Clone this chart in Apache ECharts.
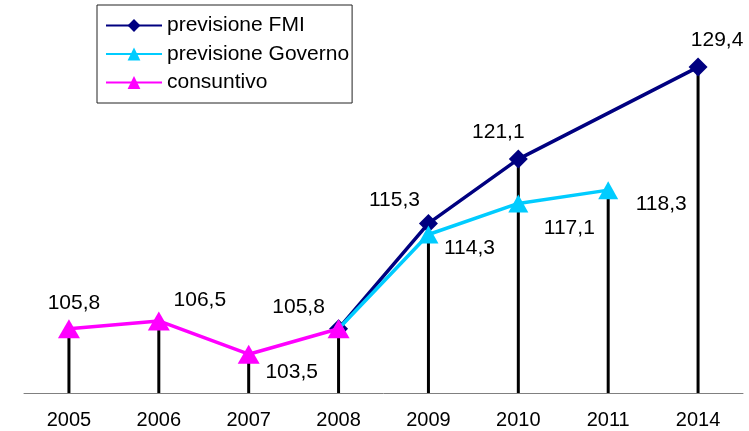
<!DOCTYPE html>
<html>
<head>
<meta charset="utf-8">
<script src="https://cdn.jsdelivr.net/npm/echarts@6/dist/echarts.min.js"></script>
<style>html,body{margin:0;padding:0;background:#fff}#c{width:749px;height:431px}</style>
</head>
<body>
<div id="c"></div>
<script>
var categories = ['2005', '2006', '2007', '2008', '2009', '2010', '2011', '2014'];
var fmi = [null, null, null, 105.8, 115.3, 121.1, null, 129.4];
var governo = [null, null, null, 105.8, 114.3, 117.1, 118.3, null];
var consuntivo = [105.8, 106.5, 103.5, 105.8, null, null, null, null];

// label styling (offsets from each point's centre, in px)
var fmiLabelOffsets = [null, null, null, null, [-34, -23], [-20, -27], null, [19, -27]];
var govLabelOffsets = [null, null, null, null, [41, 14], [51, 25], [53, 14], null];
var conLabelOffsets = [[5, -25], [41, -21], [43, 18], [-40, -21], null, null, null, null];

var FONT = 'Liberation Sans, Arial, sans-serif';

function fmt(v) { return String(v.toFixed(1)).replace('.', ','); }

function buildData(values, offsets) {
  return values.map(function (v, i) {
    if (v === null) return null;
    var item = { value: v };
    if (offsets[i]) {
      item.label = { show: true, position: 'inside', offset: offsets[i] };
    } else {
      item.label = { show: false };
    }
    return item;
  });
}

var dropValues = categories.map(function (c, i) {
  var vals = [fmi[i], governo[i], consuntivo[i]].filter(function (v) { return v !== null; });
  return Math.max.apply(null, vals);
});

var labelStyle = {
  color: '#000', fontFamily: FONT, fontSize: 21,
  formatter: function (p) { return fmt(p.value); }
};

var chart = echarts.init(document.getElementById('c'), null, { renderer: 'canvas' });
chart.setOption({
  animation: false,
  backgroundColor: '#fff',
  grid: { left: 24, right: 6, top: 5, bottom: 38 },
  legend: {
    orient: 'vertical', left: 97, top: 5,
    padding: [10, 3, 10, 8],
    borderColor: '#222', borderWidth: 1,
    itemWidth: 56, itemHeight: 16, itemGap: 7.5,
    textStyle: { color: '#000', fontFamily: FONT, fontSize: 21 },
    data: ['previsione FMI', 'previsione Governo', 'consuntivo']
  },
  xAxis: {
    type: 'category', data: categories, boundaryGap: true,
    axisLine: { lineStyle: { color: '#808080', width: 1 } },
    axisTick: { show: false },
    axisLabel: { color: '#000', fontFamily: FONT, fontSize: 20, margin: 17 }
  },
  yAxis: {
    type: 'value', min: 100, max: 135, show: false,
    splitLine: { show: false }
  },
  series: [
    {
      name: 'drop', type: 'bar', data: dropValues, barWidth: 3,
      itemStyle: { color: '#000' }, silent: true, z: 1, legendHoverLink: false
    },
    {
      name: 'previsione FMI', type: 'line', data: buildData(fmi, fmiLabelOffsets),
      connectNulls: true, symbol: 'diamond', symbolSize: 19,
      lineStyle: { color: '#000080', width: 3.5 },
      itemStyle: { color: '#000080' },
      label: labelStyle, z: 3
    },
    {
      name: 'previsione Governo', type: 'line', data: buildData(governo, govLabelOffsets),
      connectNulls: true, symbol: 'triangle', symbolSize: [20, 18],
      lineStyle: { color: '#00CCFF', width: 3.5 },
      itemStyle: { color: '#00CCFF' },
      label: labelStyle, z: 4
    },
    {
      name: 'consuntivo', type: 'line', data: buildData(consuntivo, conLabelOffsets),
      symbol: 'triangle', symbolSize: [22, 19],
      lineStyle: { color: '#FF00FF', width: 3.5 },
      itemStyle: { color: '#FF00FF' },
      label: labelStyle, z: 5
    }
  ]
});
</script>
</body>
</html>
